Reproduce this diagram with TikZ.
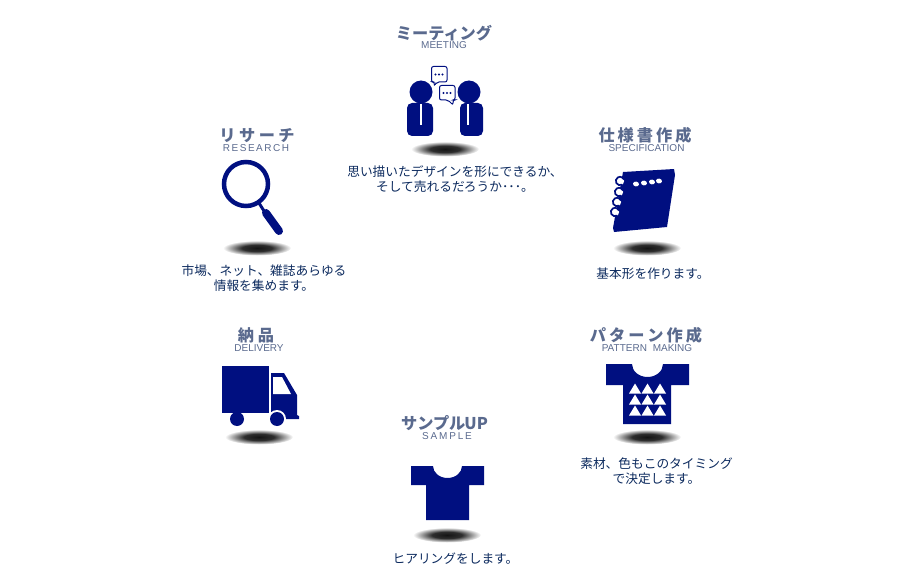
\documentclass[tikz,border=0pt]{standalone}
\usepackage{fontspec}
\setmainfont{Noto Sans CJK JP}
\newfontfamily\latinfont{Liberation Sans}
\definecolor{navy}{HTML}{000F80}
\definecolor{captiontext}{HTML}{0C2A5E}
\definecolor{titletext}{HTML}{5A6A8E}
\pgfdeclareradialshading{spotfade}{\pgfpoint{0bp}{0bp}}{color(0bp)=(black!92); color(11bp)=(black!82); color(25bp)=(white); color(50bp)=(white)}
\tikzset{
  titlelabel/.style={text=titletext,font=\fontsize{16.2}{18}\selectfont\bfseries,inner sep=0pt},
  sublabel/.style={text=titletext,font=\latinfont\fontsize{10}{11}\selectfont,inner sep=0pt},
  captionlabel/.style={text=captiontext,font=\fontsize{12.7}{15}\selectfont,align=center,inner sep=0pt},
  spot/.style={shading=spotfade,draw=none},
  iconfill/.style={fill=navy,draw=none}
}
\begin{document}
\begin{tikzpicture}[x=1pt,y=-1pt]
\useasboundingbox (0,0) rectangle (900,583);
% meeting
\node (meetingtitle) [titlelabel] at (444,33.5) {ミーティング};
\node (meetingsub) [sublabel] at (444,45.5) {MEETING};
\fill [iconfill] (421,92) circle (11.5);
\fill [iconfill] (469,92) circle (11.5);
\fill [iconfill,rounded corners=5pt] (407,103) rectangle (433,136);
\fill [iconfill,rounded corners=5pt] (460,103) rectangle (483,136);
\draw [white,line width=2.5pt] (421,104) -- (421,125);
\draw [white,line width=2.5pt] (468,104) -- (468,125);
\draw [navy,fill=white,line width=1pt,rounded corners=2pt] (431.5,66.5) -- (447,66.5) -- (447,82) -- (437,82) -- (434,86) -- (434.5,82) -- (431.5,82) -- cycle;
\draw [navy,fill=white,line width=1pt,rounded corners=2pt] (439.5,85.5) -- (455,85.5) -- (455,100) -- (453,100) -- (453,105) -- (448,100) -- (439.5,100) -- cycle;
\foreach \x in {435.5,439,442.5} \fill [navy] (\x,74.5) circle (1.2);
\foreach \x in {443.5,447,450.5} \fill [navy] (\x,93) circle (1.2);
\shade [spot] (445,149) ellipse (34 and 7.5);
\node (meetingtext) [captionlabel] at (455,179) {思い描いたデザインを形にできるか、\\そして売れるだろうか･･･。};
% research
\node (researchtitle) [titlelabel] at (257,135.5) {リ\hspace{3.5pt}サ\hspace{3.5pt}ー\hspace{3.5pt}チ};
\node (researchsub) [sublabel] at (256,148.5) {R\hspace{1.5pt}E\hspace{1.5pt}S\hspace{1.5pt}E\hspace{1.5pt}A\hspace{1.5pt}R\hspace{1.5pt}C\hspace{1.5pt}H};
\draw [navy,line width=4.5pt] (246,184) circle (22);
\draw [navy,line width=3pt] (259,203) -- (264,211);
\draw [navy,line width=8pt,line cap=round] (266,213) -- (279,231);
\shade [spot] (257,248) ellipse (34 and 7.5);
\node (researchtext) [captionlabel] at (264,278.5) {市場、ネット、雑誌あらゆる\\情報を集めます。};
% specification
\node (spectitle) [titlelabel] at (645,135.5) {仕\hspace{3pt}様\hspace{3pt}書\hspace{3pt}作\hspace{3pt}成};
\node (specsub) [sublabel] at (646.5,148.5) {SPECIFICATION};
\fill [iconfill] (623,172) -- (674,169) -- (675,175) -- (667,227) -- (614,232) -- (613,228) -- cycle;
\foreach \x/\y in {636/184,644/183,652/182,659/181} \fill [white,rotate around={-10:(\x,\y)}] (\x,\y) ellipse (3 and 2.4);
\foreach \x/\y in {620/181,619/192,617/202,615/212} {
  \fill [white] (\x,\y) circle (4.2);
  \draw [navy,line width=1.7pt] (\x,\y) ++(60:4.2) arc (60:340:4.2);
  \fill [white] (\x+1,\y) circle (1.6);
}
\shade [spot] (647,248) ellipse (34 and 7.5);
\node (spectext) [captionlabel] at (653,273.5) {基本形を作ります。};
% pattern making
\node (patterntitle) [titlelabel] at (646,335.5) {パ\hspace{3pt}タ\hspace{3pt}ー\hspace{3pt}ン\hspace{3pt}作\hspace{3pt}成};
\node (patternsub) [sublabel] at (647,348.5) {PATTERN\hspace{3pt} MAKING};
\fill [iconfill] (606,364) -- (632,364) arc (180:0:15.5 and 13) -- (689,364) -- (689,385) -- (671,385) -- (671,424) -- (623,424) -- (623,385) -- (606,385) -- cycle;
\foreach \x in {635,647.5,660} \foreach \y in {383.5,394.5,405.5} \fill [white] (\x,\y) -- (\x+6,\y+10) -- (\x-6,\y+10) -- cycle;
\shade [spot] (647,437) ellipse (34 and 7.5);
\node (patterntext) [captionlabel] at (656.5,471.5) {素材、色もこのタイミング\\で決定します。};
% delivery
\node (deliverytitle) [titlelabel] at (256,335.5) {納\hspace{4pt}品};
\node (deliverysub) [sublabel] at (259,348.5) {DELIVERY};
\fill [iconfill] (222,366) rectangle (269,413);
\fill [iconfill] (271,373) -- (284,373) -- (297,395) -- (297,415) -- (299,416) -- (299,419) -- (284,419) -- (284,413) -- (271,413) -- cycle;
\fill [white] (273,377) -- (282,377) -- (291,394) -- (273,394) -- cycle;
\fill [iconfill] (237,419) circle (7);
\fill [white] (277,419) circle (9);
\fill [iconfill] (277,419) circle (7);
\shade [spot] (259,437) ellipse (34 and 7.5);
% sample
\node (sampletitle) [titlelabel] at (444.5,423.5) {サンプル\hspace{-1pt}UP};
\node (samplesub) [sublabel] at (447,436.5) {S\hspace{1.8pt}A\hspace{1.8pt}M\hspace{1.8pt}P\hspace{1.8pt}L\hspace{1.8pt}E};
\fill [iconfill] (411,466) -- (433,466) arc (180:0:14.5 and 12) -- (484,466) -- (484,485) -- (469,485) -- (469,520) -- (426,520) -- (426,485) -- (411,485) -- cycle;
\shade [spot] (447,535) ellipse (34 and 7.5);
\node (sampletext) [captionlabel] at (455.5,558.5) {ヒアリングをします。};
\end{tikzpicture}
\end{document}
